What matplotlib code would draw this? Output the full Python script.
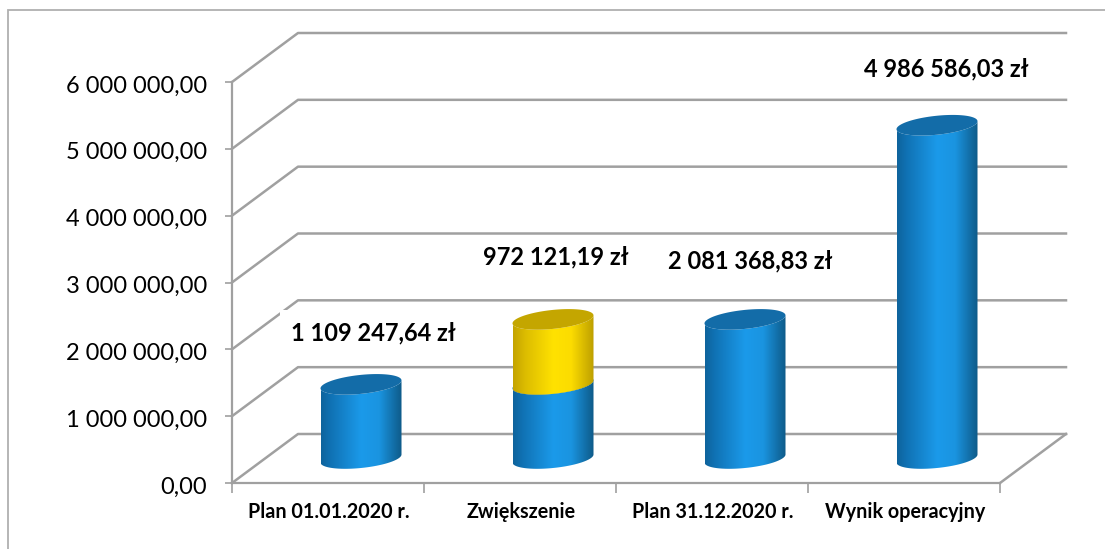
import numpy as np
import matplotlib
matplotlib.use('Agg')
import matplotlib.pyplot as plt
from matplotlib.colors import LinearSegmentedColormap
from matplotlib.patches import Polygon, Rectangle
from matplotlib.ticker import FuncFormatter
from matplotlib.transforms import ScaledTranslation

categories = ['Plan 01.01.2020 r.', 'Zwiększenie', 'Plan 31.12.2020 r.', 'Wynik operacyjny']
base_values = [1109247.64, 0, 2081368.83, 4986586.03]
increase_values = [0, 972121.19, 0, 0]
value_labels = ['1 109 247,64 zł', '972 121,19 zł', '2 081 368,83 zł', '4 986 586,03 zł']
y_ticks = [0, 1000000, 2000000, 3000000, 4000000, 5000000, 6000000]

W, H = 1105, 549
LEFT, RIGHT, BOTTOM, TOP = 232, 1000, 483, 82
PX_X = 4 / (RIGHT - LEFT)
PX_Y = 6000000 / (BOTTOM - TOP)
DEPTH_X, DEPTH_Y = 66 * PX_X, 49 * PX_Y
GRID = '#a0a0a0'

blue = LinearSegmentedColormap.from_list('blue', [(0, '#0e639c'), (0.12, '#1072b4'), (0.5, '#1b9aea'),
                                                  (0.72, '#1a94e0'), (1, '#0e5a88')])
yellow = LinearSegmentedColormap.from_list('yellow', [(0, '#c4a400'), (0.15, '#dcbc00'), (0.5, '#ffe200'),
                                                      (0.72, '#fcdc00'), (1, '#bd9f00')])
blue_top, yellow_top = '#136ca8', '#c4a600'

plt.rcParams['font.family'] = ['Lato', 'DejaVu Sans']

fig = plt.figure(figsize=(W / 100, H / 100), dpi=100)
fig.add_artist(Rectangle((8 / W, -0.01), 1.02, 1.01 - 10 / H, fill=False, ec='#b0b0b0', lw=1.3,
                         transform=fig.transFigure))
ax = fig.add_axes([LEFT / W, (H - BOTTOM) / H, (RIGHT - LEFT) / W, (BOTTOM - TOP) / H])
ax.set_xlim(0, 4)
ax.set_ylim(0, 6000000)
ax.patch.set_alpha(0)

for s in ['top', 'right']:
    ax.spines[s].set_visible(False)
for s in ['left', 'bottom']:
    ax.spines[s].set_color(GRID)
    ax.spines[s].set_linewidth(1.6)

ax.set_yticks(y_ticks)
ax.yaxis.set_major_formatter(FuncFormatter(lambda v, _: f'{int(v):,}'.replace(',', ' ') + ',00'))
ax.tick_params(axis='y', labelsize=17, length=5, width=1.2, color=GRID, pad=13, labelcolor='black')
for lbl in ax.get_yticklabels():
    lbl.set_transform(lbl.get_transform() + ScaledTranslation(0, -0.02, fig.dpi_scale_trans))
ax.set_xticks(range(5))
ax.set_xticklabels([])
ax.tick_params(axis='x', length=7, width=1.2, color=GRID)

# walls: slanted bit from the axis, then the horizontal line along the back
for v in y_ticks:
    ax.plot([0, DEPTH_X, 4 + DEPTH_X], [v, v + DEPTH_Y, v + DEPTH_Y], color=GRID, lw=1.8, clip_on=False, zorder=1)
ax.plot([4, 4 + DEPTH_X], [0, DEPTH_Y], color=GRID, lw=1.8, clip_on=False, zorder=1)


def cylinder(i, low, high, cmap, top_color, zorder):
    cx = i + 0.5 + DEPTH_X / 2
    half = 40.5 * PX_X
    mid = DEPTH_Y / 2
    t = np.linspace(0, 2 * np.pi, 120)
    ex = half * np.cos(t)
    ey = (4 * np.cos(t) + 9.5 * np.sin(t)) * PX_Y
    # front part of the ellipse is the lower half
    lower = np.linspace(np.pi, 2 * np.pi, 60)
    fx = cx + half * np.cos(lower)
    fy = (4 * np.cos(lower) + 9.5 * np.sin(lower)) * PX_Y
    side = np.column_stack([np.r_[fx, fx[::-1]], np.r_[low + mid + fy, (high + mid + fy)[::-1]]])
    grad = np.linspace(0, 1, 256).reshape(1, -1)
    im = ax.imshow(grad, cmap=cmap, aspect='auto', zorder=zorder, clip_on=True,
                   extent=[cx - half, cx + half, 0, 7000000])
    im.set_clip_path(Polygon(side, transform=ax.transData))
    ax.fill(cx + ex, high + mid + ey, color=top_color, lw=0, zorder=zorder + 0.1, clip_on=False)


for i in range(4):
    if base_values[i]:
        cylinder(i, 0, base_values[i], blue, blue_top, 3)
    if increase_values[i]:
        # zwiekszenie sits on top of the first plan value
        low = base_values[0]
        cylinder(i, 0, low, blue, blue_top, 3)
        cylinder(i, low, low + increase_values[i], yellow, yellow_top, 3.5)
ax.set_xlim(0, 4)
ax.set_ylim(0, 6000000)

for i, name in enumerate(categories):
    ax.annotate(name, (i + 0.5, 0), xytext=(1, -29), textcoords='offset pixels', ha='center', va='center',
                fontsize=14.2, fontweight='bold', annotation_clip=False)

label_x = [0.735, 1.685, 2.70, 3.72]
label_y = [2244000, 3380000, 3320000, 6190000]
for i, txt in enumerate(value_labels):
    box = dict(fc='white', ec='none', pad=8) if i == 0 else None
    ax.text(label_x[i], label_y[i], txt, ha='center', va='center', fontsize=17, fontweight='bold',
            bbox=box, zorder=2, clip_on=False)

fig.savefig('out.png', dpi=100)
